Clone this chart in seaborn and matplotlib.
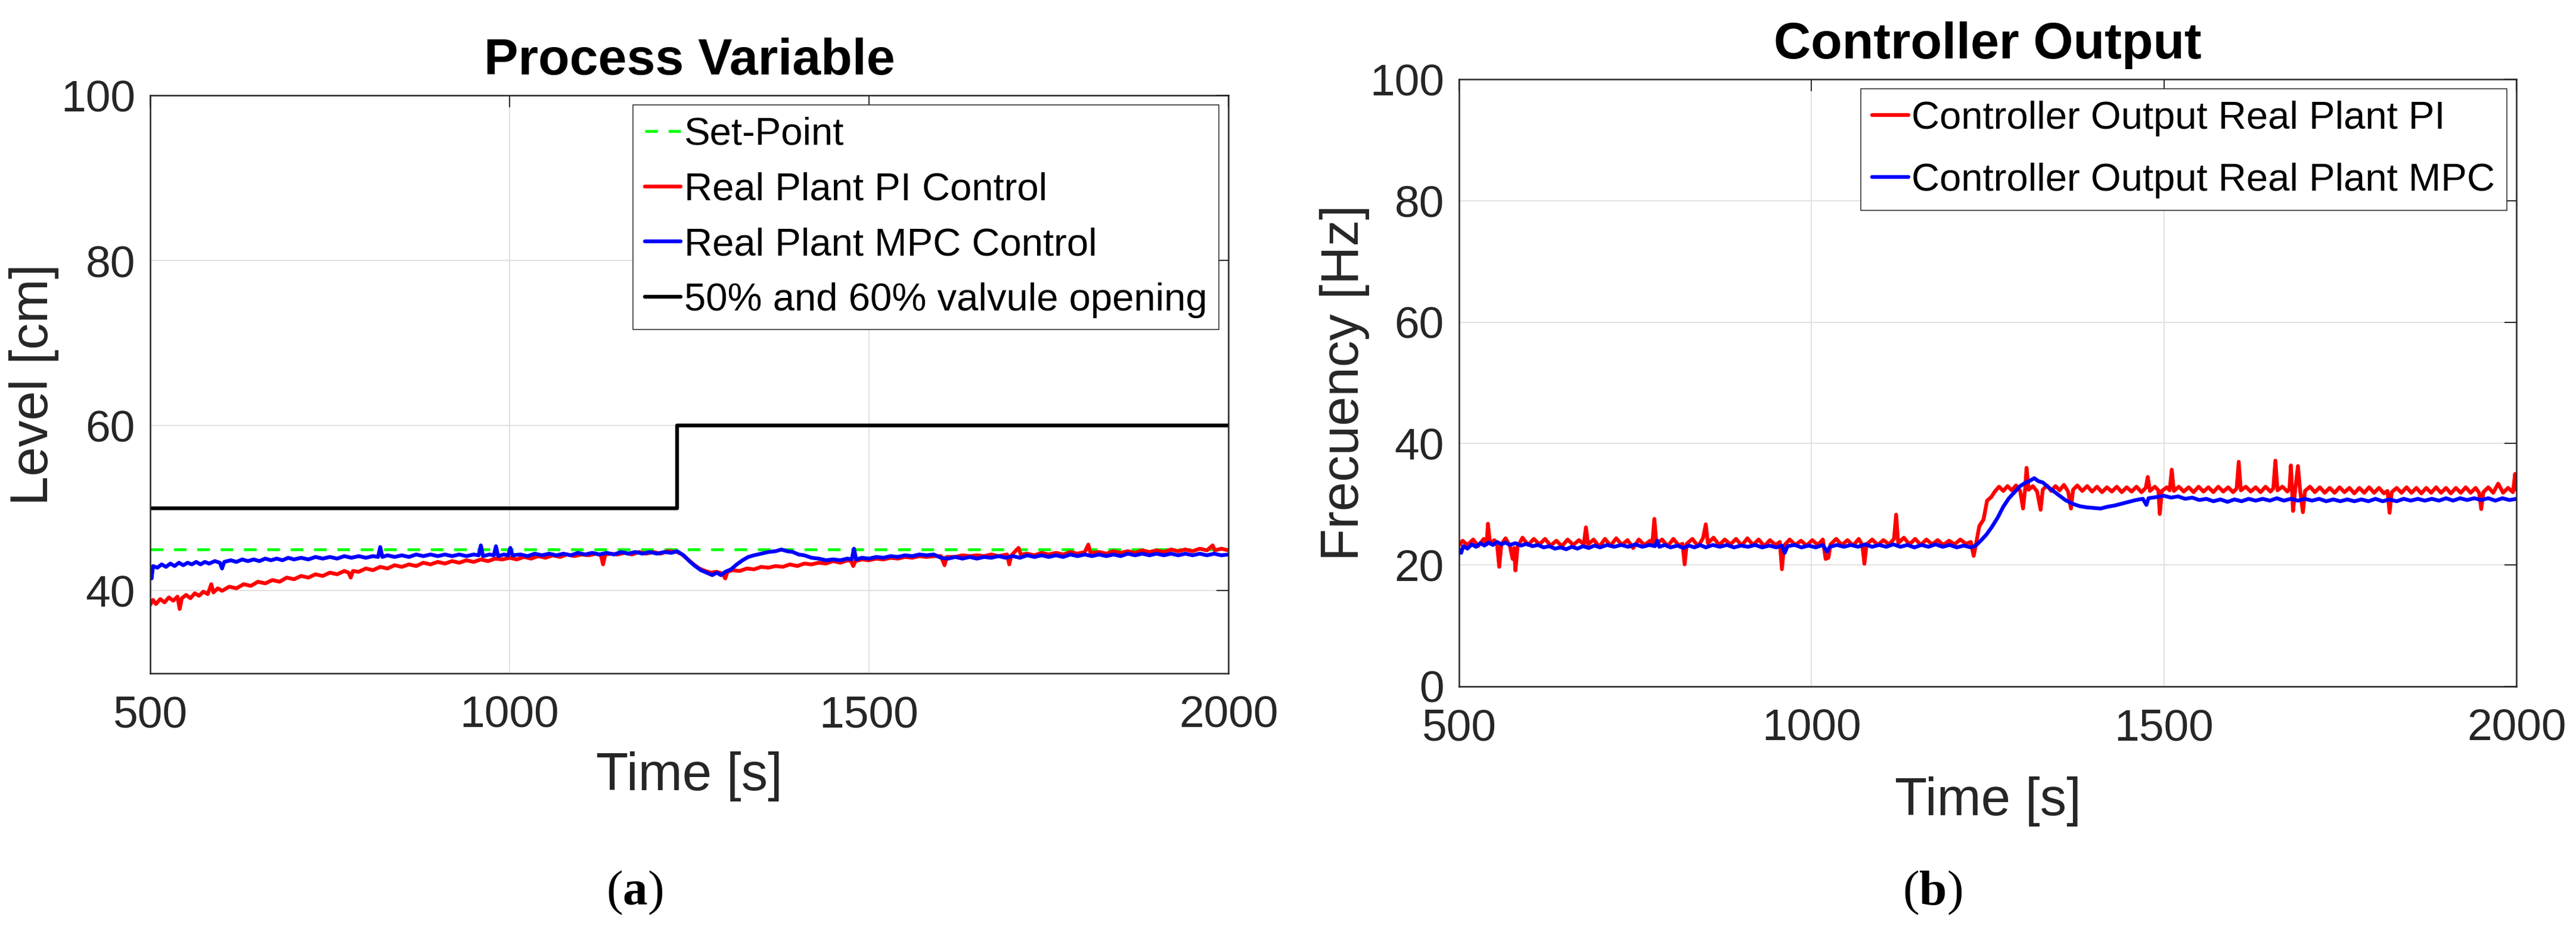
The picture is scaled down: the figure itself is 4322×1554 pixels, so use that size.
import numpy as np
import pandas as pd
import matplotlib
matplotlib.use("Agg")
import matplotlib.pyplot as plt
import seaborn as sns

# ---- data: (time [s], value) ----
x_ticks = [500, 1000, 1500, 2000]
level_ticks = [40, 60, 80, 100]
freq_ticks = [0, 20, 40, 60, 80, 100]

setpoint = [(500, 45.0), (2000, 45.0)]
valve = [(500, 50.0), (1233, 60.0), (2000, 60.0)]

lv_pi = [(500, 38.3), (504, 38.9), (508, 38.4), (514, 39.0), (520, 38.6), (526, 39.2), (532, 38.8),
         (538, 39.3), (541, 37.8), (544, 39.1), (550, 39.5), (556, 39.1), (562, 39.7), (568, 39.4),
         (574, 39.9), (580, 39.6), (585, 40.8), (588, 39.8), (594, 40.3), (600, 40.0), (610, 40.5),
         (620, 40.3), (630, 40.8), (640, 40.6), (650, 41.1), (660, 40.9), (670, 41.3), (680, 41.1),
         (690, 41.6), (700, 41.4), (710, 41.8), (720, 41.6), (730, 42.0), (740, 41.8), (750, 42.2),
         (760, 42.0), (770, 42.4), (776, 42.2), (779, 41.6), (782, 42.4), (790, 42.3), (800, 42.7),
         (810, 42.5), (820, 42.9), (830, 42.7), (840, 43.1), (850, 42.9), (860, 43.2), (870, 43.0),
         (880, 43.4), (890, 43.2), (900, 43.5), (910, 43.3), (920, 43.6), (930, 43.4), (940, 43.7),
         (950, 43.5), (960, 43.8), (970, 43.6), (980, 43.9), (990, 43.8), (1000, 44.0), (1010, 43.8),
         (1020, 44.1), (1030, 43.9), (1040, 44.2), (1050, 44.0), (1060, 44.3), (1070, 44.1),
         (1080, 44.4), (1090, 44.2), (1100, 44.4), (1110, 44.3), (1120, 44.5), (1127, 44.3),
         (1130, 43.2), (1133, 44.4), (1140, 44.5), (1150, 44.4), (1160, 44.6), (1170, 44.4),
         (1180, 44.7), (1190, 44.5), (1200, 44.7), (1210, 44.5), (1220, 44.8), (1233, 44.7),
         (1240, 44.4), (1248, 43.8), (1256, 43.2), (1264, 42.7), (1272, 42.4), (1280, 42.2),
         (1288, 42.3), (1296, 42.1), (1300, 41.5), (1303, 42.3), (1310, 42.5), (1320, 42.4),
         (1330, 42.7), (1340, 42.6), (1350, 42.9), (1360, 42.8), (1370, 43.0), (1380, 42.9),
         (1390, 43.2), (1400, 43.0), (1410, 43.3), (1420, 43.2), (1430, 43.4), (1440, 43.3),
         (1450, 43.6), (1460, 43.4), (1470, 43.7), (1475, 43.6), (1478, 43.0), (1481, 43.6),
         (1490, 43.8), (1500, 43.7), (1510, 43.9), (1520, 43.8), (1530, 44.0), (1540, 43.9),
         (1550, 44.1), (1560, 44.0), (1570, 44.2), (1580, 44.1), (1590, 44.2), (1600, 44.2),
         (1605, 43.1), (1608, 44.1), (1620, 44.1), (1630, 44.3), (1640, 44.2), (1650, 44.3),
         (1660, 44.2), (1670, 44.4), (1680, 44.2), (1692, 44.4), (1695, 43.2), (1698, 44.3),
         (1708, 45.2), (1711, 44.4), (1720, 44.5), (1730, 44.3), (1740, 44.6), (1750, 44.4),
         (1760, 44.6), (1770, 44.4), (1780, 44.7), (1790, 44.5), (1800, 44.7), (1805, 45.6),
         (1808, 44.6), (1820, 44.7), (1830, 44.5), (1840, 44.8), (1850, 44.6), (1860, 44.8),
         (1870, 44.6), (1880, 44.9), (1890, 44.7), (1900, 44.9), (1910, 44.7), (1920, 45.0),
         (1930, 44.8), (1940, 45.0), (1950, 44.8), (1960, 45.1), (1970, 44.9), (1978, 45.5),
         (1981, 44.9), (1990, 45.1), (2000, 44.9)]

lv_mpc = [(500, 42.4), (502, 41.5), (504, 43.0), (510, 42.8), (516, 43.2), (522, 42.9), (528, 43.3),
          (534, 43.0), (540, 43.4), (546, 43.1), (552, 43.4), (558, 43.2), (564, 43.5), (570, 43.2),
          (576, 43.5), (582, 43.3), (590, 43.6), (597, 43.4), (600, 42.7), (603, 43.5), (612, 43.7),
          (620, 43.5), (628, 43.8), (636, 43.6), (644, 43.8), (652, 43.6), (660, 43.9), (668, 43.7),
          (676, 43.9), (684, 43.7), (692, 44.0), (700, 43.8), (710, 44.0), (720, 43.8), (730, 44.1),
          (740, 43.9), (750, 44.1), (760, 43.9), (770, 44.2), (780, 44.0), (790, 44.2), (800, 44.0),
          (810, 44.2), (817, 44.1), (820, 45.3), (823, 44.1), (830, 44.3), (840, 44.1), (850, 44.3),
          (860, 44.1), (870, 44.4), (880, 44.2), (890, 44.4), (900, 44.2), (910, 44.4), (920, 44.2),
          (930, 44.4), (940, 44.2), (950, 44.4), (957, 44.3), (960, 45.5), (963, 44.2), (972, 44.4),
          (978, 44.3), (981, 45.4), (984, 44.2), (992, 44.4), (998, 44.3), (1001, 45.2), (1004, 44.3),
          (1015, 44.4), (1025, 44.2), (1035, 44.5), (1045, 44.3), (1055, 44.5), (1065, 44.3),
          (1075, 44.5), (1085, 44.3), (1095, 44.6), (1105, 44.4), (1115, 44.6), (1125, 44.4),
          (1135, 44.6), (1145, 44.4), (1155, 44.7), (1165, 44.5), (1175, 44.7), (1185, 44.5),
          (1195, 44.7), (1205, 44.5), (1215, 44.7), (1225, 44.6), (1233, 44.8), (1242, 44.3),
          (1250, 43.6), (1258, 43.0), (1266, 42.5), (1274, 42.2), (1282, 41.9), (1288, 42.2),
          (1294, 41.9), (1300, 42.3), (1308, 42.6), (1316, 43.2), (1324, 43.7), (1332, 44.1),
          (1340, 44.3), (1350, 44.5), (1360, 44.7), (1370, 44.8), (1378, 45.0), (1386, 44.8),
          (1394, 44.7), (1402, 44.4), (1410, 44.3), (1420, 44.0), (1430, 43.9), (1440, 43.7),
          (1450, 43.8), (1460, 43.7), (1470, 43.9), (1476, 43.8), (1479, 45.1), (1482, 43.8),
          (1490, 44.0), (1500, 43.9), (1510, 44.1), (1520, 44.0), (1530, 44.2), (1540, 44.1),
          (1550, 44.3), (1560, 44.2), (1570, 44.4), (1580, 44.3), (1590, 44.4), (1600, 44.0),
          (1610, 43.9), (1620, 44.1), (1630, 43.9), (1640, 44.1), (1650, 43.9), (1660, 44.1),
          (1670, 44.0), (1680, 44.2), (1690, 44.0), (1700, 44.2), (1710, 44.0), (1720, 44.3),
          (1730, 44.1), (1740, 44.3), (1750, 44.1), (1760, 44.3), (1770, 44.1), (1780, 44.4),
          (1790, 44.2), (1800, 44.4), (1810, 44.2), (1820, 44.4), (1830, 44.2), (1840, 44.4),
          (1850, 44.2), (1860, 44.5), (1870, 44.3), (1880, 44.5), (1890, 44.3), (1900, 44.5),
          (1910, 44.3), (1920, 44.5), (1930, 44.3), (1940, 44.5), (1950, 44.3), (1960, 44.5),
          (1970, 44.3), (1980, 44.5), (1990, 44.3), (2000, 44.4)]

co_pi = [(500, 23.2), (505, 24.0), (512, 23.3), (520, 24.2), (527, 23.1), (535, 24.3), (539, 23.4),
         (541, 26.8), (544, 23.5), (550, 24.1), (554, 23.3), (557, 19.7), (560, 23.4), (566, 24.4),
         (572, 23.2), (576, 21.0), (578, 22.8), (580, 19.1), (583, 23.0), (590, 24.5), (598, 23.3),
         (606, 24.3), (614, 23.4), (622, 24.3), (630, 23.2), (638, 24.0), (646, 23.1), (654, 24.2),
         (662, 23.3), (670, 24.1), (677, 23.4), (680, 26.2), (683, 23.4), (691, 24.2), (699, 23.0),
         (707, 24.3), (715, 23.2), (723, 24.4), (731, 23.3), (739, 24.1), (747, 22.8), (755, 24.2),
         (763, 23.3), (771, 24.0), (774, 23.2), (777, 27.6), (780, 23.5), (788, 24.2), (796, 23.1),
         (804, 24.3), (812, 23.2), (817, 23.5), (820, 20.1), (823, 23.5), (831, 24.3), (839, 23.1),
         (846, 24.4), (850, 26.7), (853, 23.6), (861, 24.5), (869, 23.3), (877, 24.2), (885, 23.4),
         (893, 24.3), (901, 23.2), (909, 24.4), (917, 23.3), (925, 24.2), (933, 23.1), (941, 24.1),
         (949, 23.3), (955, 23.8), (958, 19.3), (961, 23.2), (969, 24.2), (977, 23.3), (985, 24.0),
         (993, 23.2), (1001, 24.1), (1009, 23.3), (1016, 24.2), (1020, 21.0), (1024, 21.2),
         (1027, 23.4), (1035, 24.3), (1043, 23.3), (1051, 24.1), (1059, 23.2), (1067, 24.3),
         (1072, 23.3), (1075, 20.2), (1078, 23.4), (1086, 24.2), (1094, 23.3), (1102, 24.1),
         (1110, 23.4), (1117, 24.3), (1120, 28.3), (1123, 23.6), (1131, 24.5), (1139, 23.4),
         (1147, 24.3), (1155, 23.3), (1163, 24.2), (1171, 23.4), (1179, 24.1), (1187, 23.3),
         (1195, 24.0), (1203, 23.4), (1211, 24.2), (1219, 23.5), (1226, 23.8), (1230, 21.5),
         (1234, 23.9), (1238, 26.4), (1244, 27.5), (1249, 30.6), (1255, 31.2), (1260, 32.1),
         (1266, 32.9), (1272, 32.2), (1278, 33.0), (1284, 32.3), (1290, 33.1), (1296, 32.2),
         (1300, 29.3), (1303, 32.5), (1305, 36.0), (1308, 32.4), (1314, 33.0), (1320, 32.1),
         (1325, 29.1), (1328, 32.4), (1334, 33.1), (1340, 32.2), (1346, 33.0), (1352, 32.3),
         (1358, 33.2), (1364, 32.1), (1368, 29.3), (1371, 32.4), (1377, 33.1), (1384, 32.2),
         (1391, 33.0), (1398, 32.1), (1405, 32.9), (1412, 32.0), (1419, 32.8), (1426, 32.1),
         (1433, 32.9), (1440, 32.0), (1447, 32.8), (1454, 32.1), (1461, 32.9), (1468, 32.0),
         (1474, 32.7), (1477, 34.5), (1480, 32.2), (1487, 32.9), (1492, 32.3), (1494, 28.4),
         (1497, 32.2), (1504, 32.8), (1508, 32.3), (1511, 35.7), (1514, 32.2), (1521, 32.9),
         (1528, 32.1), (1535, 32.8), (1542, 32.0), (1549, 32.9), (1556, 32.1), (1563, 32.8),
         (1570, 32.0), (1577, 32.9), (1584, 32.1), (1591, 32.8), (1598, 32.0), (1603, 32.6),
         (1606, 37.0), (1609, 32.3), (1616, 32.9), (1623, 32.1), (1630, 32.8), (1637, 32.0),
         (1644, 32.9), (1651, 32.1), (1655, 32.6), (1658, 37.2), (1661, 32.3), (1668, 32.9),
         (1675, 32.1), (1678, 32.6), (1680, 36.4), (1683, 28.9), (1686, 32.3), (1690, 36.3),
         (1693, 32.4), (1697, 28.7), (1700, 32.2), (1707, 32.9), (1714, 32.0), (1721, 32.8),
         (1728, 31.9), (1735, 32.7), (1742, 31.9), (1749, 32.8), (1756, 32.0), (1763, 32.7),
         (1770, 31.8), (1777, 32.7), (1784, 31.9), (1791, 32.8), (1798, 31.9), (1805, 32.7),
         (1812, 31.8), (1817, 32.2), (1820, 28.6), (1823, 32.0), (1830, 32.7), (1837, 31.9),
         (1844, 32.8), (1851, 31.9), (1858, 32.7), (1865, 31.8), (1872, 32.7), (1879, 31.9),
         (1886, 32.8), (1893, 31.9), (1900, 32.7), (1907, 31.8), (1914, 32.7), (1921, 31.9),
         (1928, 32.8), (1935, 31.9), (1942, 32.7), (1947, 31.9), (1950, 29.2), (1953, 32.0),
         (1960, 32.8), (1967, 31.9), (1974, 33.4), (1981, 31.9), (1988, 32.7), (1995, 32.0),
         (1998, 35.0), (2000, 32.4)]

co_mpc = [(500, 22.6), (503, 22.0), (506, 23.1), (512, 22.7), (518, 23.4), (524, 23.0), (530, 23.6),
          (536, 23.2), (542, 23.7), (548, 23.3), (554, 23.8), (560, 23.4), (566, 23.7), (572, 23.3),
          (580, 23.6), (588, 23.2), (596, 23.5), (604, 23.1), (612, 23.3), (620, 22.9), (628, 23.1),
          (636, 22.7), (644, 22.9), (652, 22.6), (660, 23.0), (668, 22.7), (676, 23.1), (684, 22.8),
          (692, 23.2), (700, 22.9), (710, 23.3), (720, 23.0), (730, 23.3), (740, 23.0), (750, 23.4),
          (760, 23.0), (770, 23.3), (778, 23.1), (781, 24.0), (784, 23.0), (792, 23.3), (800, 22.9),
          (810, 23.2), (818, 22.8), (826, 23.2), (834, 22.9), (842, 23.3), (850, 22.9), (860, 23.3),
          (870, 23.0), (880, 23.3), (890, 22.9), (900, 23.2), (910, 23.0), (920, 23.3), (930, 22.9),
          (940, 23.2), (950, 22.9), (958, 23.2), (962, 22.0), (966, 23.1), (976, 23.3), (986, 22.9),
          (996, 23.2), (1006, 22.9), (1016, 23.3), (1022, 22.2), (1026, 23.0), (1036, 23.3),
          (1046, 23.0), (1056, 23.3), (1066, 23.0), (1076, 23.4), (1086, 23.0), (1096, 23.3),
          (1106, 23.0), (1116, 23.4), (1126, 23.0), (1136, 23.3), (1146, 22.9), (1156, 23.3),
          (1166, 23.0), (1176, 23.4), (1186, 23.0), (1196, 23.3), (1206, 22.9), (1216, 23.2),
          (1226, 22.9), (1233, 23.2), (1240, 24.0), (1248, 25.0), (1256, 26.3), (1264, 27.8),
          (1272, 29.6), (1280, 31.0), (1288, 32.0), (1296, 33.0), (1304, 33.6), (1310, 33.9),
          (1316, 34.3), (1322, 33.8), (1328, 33.6), (1336, 32.8), (1344, 32.1), (1352, 31.4),
          (1360, 30.7), (1370, 30.1), (1380, 29.7), (1390, 29.5), (1400, 29.4), (1410, 29.3),
          (1420, 29.6), (1430, 29.8), (1440, 30.1), (1450, 30.4), (1460, 30.7), (1470, 30.9),
          (1475, 29.9), (1478, 31.0), (1490, 31.2), (1500, 31.4), (1510, 31.1), (1520, 31.3),
          (1530, 30.9), (1540, 31.1), (1550, 30.7), (1560, 30.9), (1570, 30.5), (1580, 30.8),
          (1590, 30.4), (1600, 30.8), (1610, 30.5), (1620, 30.9), (1630, 30.6), (1640, 30.9),
          (1650, 30.6), (1660, 31.0), (1670, 30.6), (1680, 30.9), (1690, 30.6), (1700, 30.9),
          (1710, 30.6), (1720, 30.9), (1730, 30.5), (1740, 30.8), (1750, 30.5), (1760, 30.8),
          (1770, 30.5), (1780, 30.8), (1790, 30.5), (1800, 30.9), (1810, 30.5), (1820, 30.8),
          (1830, 30.5), (1840, 30.9), (1850, 30.6), (1860, 30.9), (1870, 30.6), (1880, 30.9),
          (1890, 30.6), (1900, 31.0), (1910, 30.6), (1920, 31.0), (1930, 30.7), (1940, 31.0),
          (1950, 30.7), (1960, 31.0), (1970, 30.6), (1980, 31.0), (1990, 30.7), (2000, 30.9)]


def frame(pairs):
    return pd.DataFrame(pairs, columns=["t", "v"])


sns.set_theme(style="white")
font = ["Liberation Sans", "DejaVu Sans"]
plt.rcParams["font.family"] = font
plt.rcParams["mathtext.fontset"] = "custom"
plt.rcParams["mathtext.rm"] = "Liberation Serif"
plt.rcParams["mathtext.bf"] = "Liberation Serif:bold"

INK = "#262626"
LW = 4.6

fig = plt.figure(figsize=(43.22, 15.54), dpi=100)
ax1 = fig.add_axes([0.0583, 0.2728, 0.4186, 0.6242])
ax2 = fig.add_axes([0.5664, 0.2587, 0.4105, 0.6557])

# (a) process variable
sns.lineplot(data=frame(setpoint), x="t", y="v", ax=ax1, color="#00ff00", lw=3.4,
             linestyle=(0, (4.5, 3.8)), label="Set-Point", estimator=None)
sns.lineplot(data=frame(lv_pi), x="t", y="v", ax=ax1, color="#ff0000", lw=LW,
             label="Real Plant PI Control", estimator=None)
sns.lineplot(data=frame(lv_mpc), x="t", y="v", ax=ax1, color="#0000ff", lw=LW,
             label="Real Plant MPC Control", estimator=None)
sns.lineplot(data=frame(valve), x="t", y="v", ax=ax1, color="black", lw=LW,
             drawstyle="steps-post", label="50% and 60% valvule opening", estimator=None)

# (b) controller output
sns.lineplot(data=frame(co_pi), x="t", y="v", ax=ax2, color="#ff0000", lw=LW,
             label="Controller Output Real Plant PI", estimator=None)
sns.lineplot(data=frame(co_mpc), x="t", y="v", ax=ax2, color="#0000ff", lw=LW,
             label="Controller Output Real Plant MPC", estimator=None)

ax1.set_ylim(30, 100)
ax1.set_yticks(level_ticks)
ax2.set_ylim(0, 100)
ax2.set_yticks(freq_ticks)

setup = [(ax1, "Process Variable", "Level [cm]", -0.135, 0.50),
         (ax2, "Controller Output", "Frecuency [Hz]", -0.148, 0.68)]
for ax, title, ylab, xlab_y, lspace in setup:
    ax.set_xlim(500, 2000)
    ax.set_xticks(x_ticks)
    ax.set_axisbelow(True)
    ax.grid(True, color="#dedede", lw=1.3)
    for s in ax.spines.values():
        s.set_linewidth(1.8)
        s.set_color(INK)
    ax.tick_params(direction="in", length=14.5, width=1.4, top=True, right=True,
                   labelsize=54, color=INK, labelcolor=INK)
    ax.tick_params(axis="x", pad=26)
    ax.tick_params(axis="y", pad=18)
    ax.set_title(title, fontsize=62, fontweight="bold", pad=25, color="black")
    ax.set_xlabel("Time [s]", fontsize=64, color=INK)
    ax.xaxis.set_label_coords(0.5, xlab_y)
    ax.set_ylabel(ylab, fontsize=64, color=INK)
    ax.yaxis.set_label_coords(-0.0846, 0.5)
    leg = ax.legend(loc="upper right", bbox_to_anchor=(1, 1), borderaxespad=0.25,
                    prop={"size": 47}, handlelength=0.93, handletextpad=0.08,
                    borderpad=0.3, labelspacing=lspace, frameon=True, fancybox=False,
                    framealpha=1, edgecolor=INK)
    leg.get_frame().set_linewidth(1.1)
    for txt in leg.get_texts():
        txt.set_color("black")

fig.text(0.2464, 0.036, r"($\mathbf{a}$)", fontsize=60, family=["Liberation Serif"],
         ha="center", va="center", color="black")
fig.text(0.7501, 0.036, r"($\mathbf{b}$)", fontsize=60, family=["Liberation Serif"],
         ha="center", va="center", color="black")

fig.savefig("out.png", dpi=100, facecolor="white")
